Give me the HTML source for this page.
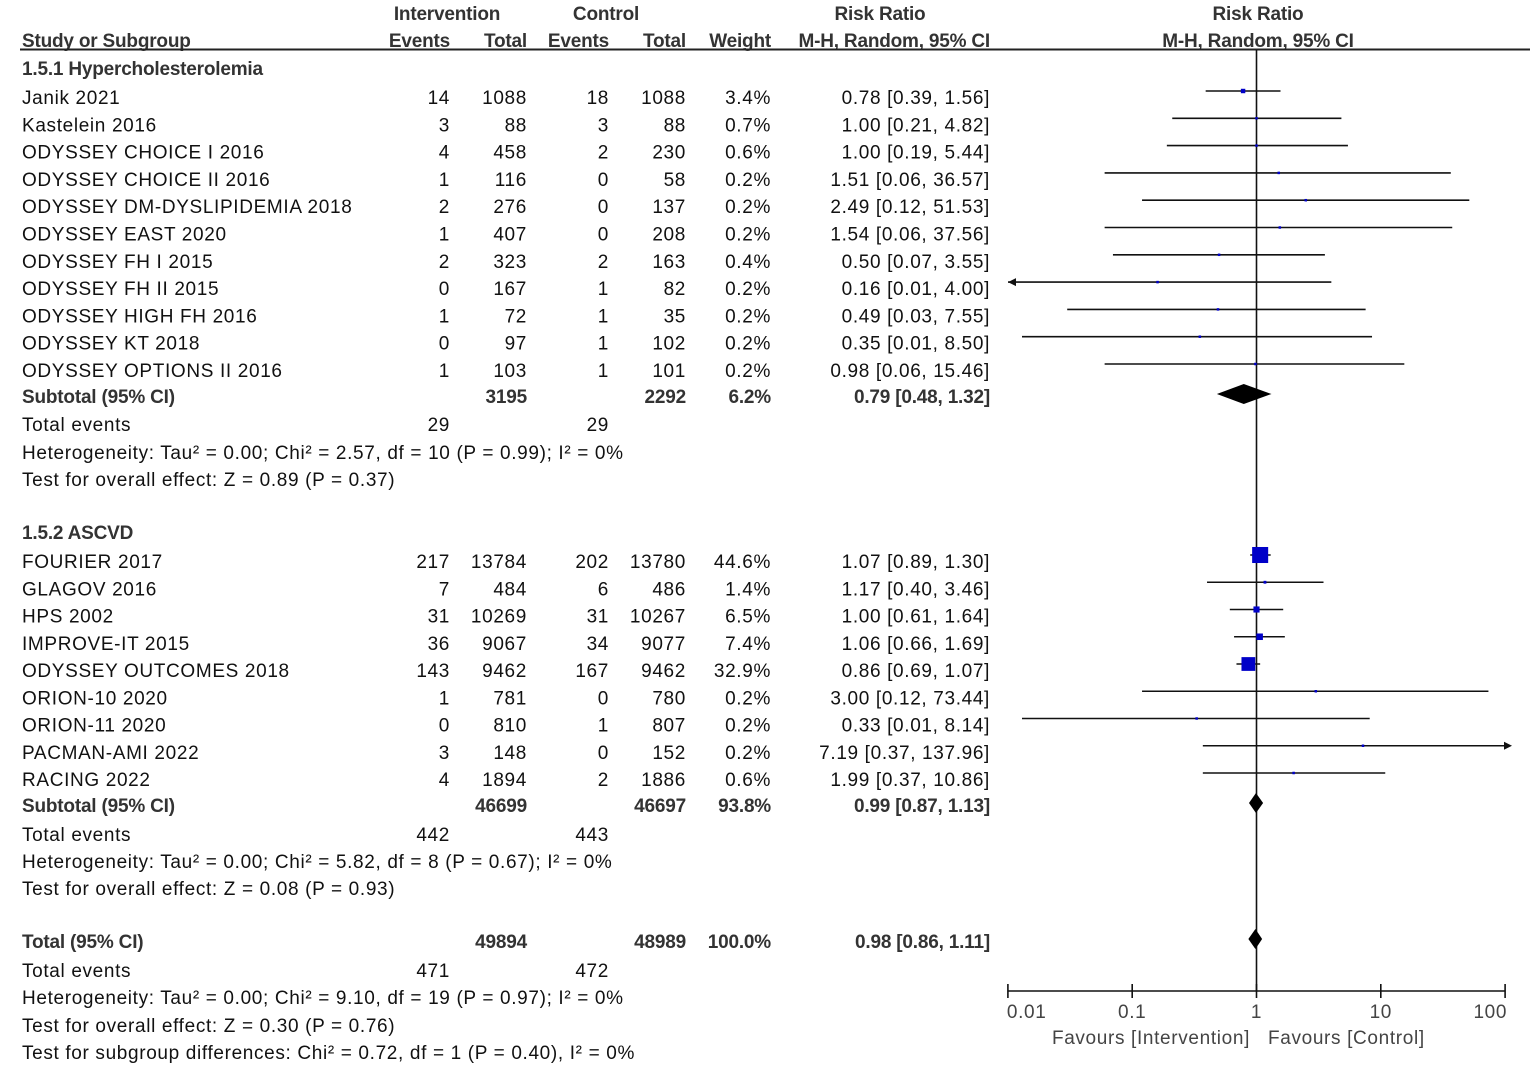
<!DOCTYPE html>
<html><head><meta charset="utf-8"><style>
html,body{margin:0;padding:0;background:#fff;}
svg{display:block;font-family:"Liberation Sans",Arial,sans-serif;font-size:19px;fill:#111;letter-spacing:0.65px;}
.b{font-weight:bold;font-size:19px;fill:#333;letter-spacing:-0.2px;}
.g{fill:#444;}
</style></head><body>
<svg id="plot" width="1535" height="1065" viewBox="0 0 1535 1065"></svg>
<script>
const studies1 = ["Janik 2021","Kastelein 2016","ODYSSEY CHOICE I 2016","ODYSSEY CHOICE II 2016","ODYSSEY DM-DYSLIPIDEMIA 2018","ODYSSEY EAST 2020","ODYSSEY FH I 2015","ODYSSEY FH II 2015","ODYSSEY HIGH FH 2016","ODYSSEY KT 2018","ODYSSEY OPTIONS II 2016"];
const ie1 = [14,3,4,1,2,1,2,0,1,0,1];
const it1 = [1088,88,458,116,276,407,323,167,72,97,103];
const ce1 = [18,3,2,0,0,0,2,1,1,1,1];
const ct1 = [1088,88,230,58,137,208,163,82,35,102,101];
const w1 = [3.4,0.7,0.6,0.2,0.2,0.2,0.4,0.2,0.2,0.2,0.2];
const rr1 = [0.78,1.00,1.00,1.51,2.49,1.54,0.50,0.16,0.49,0.35,0.98];
const lo1 = [0.39,0.21,0.19,0.06,0.12,0.06,0.07,0.01,0.03,0.01,0.06];
const hi1 = [1.56,4.82,5.44,36.57,51.53,37.56,3.55,4.00,7.55,8.50,15.46];
const arrowL1 = [0,0,0,0,0,0,0,1,0,0,0];
const studies2 = ["FOURIER 2017","GLAGOV 2016","HPS 2002","IMPROVE-IT 2015","ODYSSEY OUTCOMES 2018","ORION-10 2020","ORION-11 2020","PACMAN-AMI 2022","RACING 2022"];
const ie2 = [217,7,31,36,143,1,0,3,4];
const it2 = [13784,484,10269,9067,9462,781,810,148,1894];
const ce2 = [202,6,31,34,167,0,1,0,2];
const ct2 = [13780,486,10267,9077,9462,780,807,152,1886];
const w2 = [44.6,1.4,6.5,7.4,32.9,0.2,0.2,0.2,0.6];
const rr2 = [1.07,1.17,1.00,1.06,0.86,3.00,0.33,7.19,1.99];
const lo2 = [0.89,0.40,0.61,0.66,0.69,0.12,0.01,0.37,0.37];
const hi2 = [1.30,3.46,1.64,1.69,1.07,73.44,8.14,137.96,10.86];
const arrowL2 = [0,0,0,0,0,0,0,0,0];
const pooledRR = [0.79,0.99,0.98];
const pooledLo = [0.48,0.87,0.86];
const pooledHi = [1.32,1.13,1.11];
const ticks = [0.01,0.1,1,10,100];
const tickLabels = ["0.01","0.1","1","10","100"];

const svg = document.getElementById('plot');
const NS = 'http://www.w3.org/2000/svg';
function X(v){ return 1256.5 + 124.3*Math.log10(v); }
function mk(tag, attrs, text){
  const e = document.createElementNS(NS, tag);
  for (const k in attrs) e.setAttribute(k, attrs[k]);
  if (text !== undefined) e.textContent = text;
  svg.appendChild(e); return e;
}
function T(x, y, s, anchor, cls, name){
  const e = mk('text', {x:x, y:y, 'text-anchor':anchor||'start', class:cls||''}, s);
  
  
  return e;
}
T(447,20,"Intervention","middle","b","header-intervention");
T(606,20,"Control","middle","b","header-control");
T(880,20,"Risk Ratio","middle","b","header-risk-ratio");
T(1258,20,"Risk Ratio","middle","b","header-risk-ratio-plot");
T(22,47,"Study or Subgroup","start","b","header-study");
T(450,47,"Events","end","b","header-int-events");
T(527,47,"Total","end","b","header-int-total");
T(609,47,"Events","end","b","header-ctrl-events");
T(686,47,"Total","end","b","header-ctrl-total");
T(771,47,"Weight","end","b","header-weight");
T(990,47,"M-H, Random, 95% CI","end","b","header-ci");
T(1258,47,"M-H, Random, 95% CI","middle","b","header-ci-plot");
let hl = mk('line',{x1:20,y1:49.5,x2:1530,y2:49.5,stroke:'#222','stroke-width':2});



function f2(v){ return v.toFixed(2); }
function studyRow(y, name, ie, it, ce, ct, w, rr, lo, hi, arrL){
  T(22,y+7,name,"start","","study-name");
  T(450,y+7,String(ie),"end","","int-events");
  T(527,y+7,String(it),"end","","int-total");
  T(609,y+7,String(ce),"end","","ctrl-events");
  T(686,y+7,String(ct),"end","","ctrl-total");
  T(771,y+7,w.toFixed(1)+"%","end","","weight");
  T(990,y+7,f2(rr)+" ["+f2(lo)+", "+f2(hi)+"]","end","","ci-text");
  const my = y-6;
  const x1 = arrL ? 1008 : Math.max(X(lo),1022), x2 = Math.min(X(hi),1510);
  const l = mk('line',{x1:x1,y1:my,x2:x2,y2:my,stroke:'#111','stroke-width':1.6});
  
  
  if (arrL) {
    const a = mk('polygon',{points:`${1008},${my} ${1016},${my-4} ${1016},${my+4}`,fill:'#111'});
    
    
  }
  if (X(hi) > 1510) {
    const a = mk('polygon',{points:`${1512},${my} ${1504},${my-4} ${1504},${my+4}`,fill:'#111'});
    
    
  }
  const s = Math.max(2.5, 2.4*Math.sqrt(w));
  const r = mk('rect',{x:X(rr)-s/2,y:my-s/2,width:s,height:s,fill:'#0000c8'});
  
  
}
function diamond(y, i, h){
  const my = y-6;
  const d = mk('polygon',{points:`${X(pooledLo[i])},${my} ${X(pooledRR[i])},${my-h/2} ${X(pooledHi[i])},${my} ${X(pooledRR[i])},${my+h/2}`,fill:'#000'});
  
  
}
const vl = mk('line',{x1:X(1),y1:50,x2:X(1),y2:991,stroke:'#111','stroke-width':1.6});



T(22,75,"1.5.1 Hypercholesterolemia","start","b","subgroup-1-title");
for (let i=0;i<studies1.length;i++) studyRow(97+i*27.3, studies1[i], ie1[i], it1[i], ce1[i], ct1[i], w1[i], rr1[i], lo1[i], hi1[i], arrowL1[i]);
function sub(y, i, it, ct, w, h, label){
  T(22,y+7,label,"start","b","subtotal-label");
  T(527,y+7,String(it),"end","b","subtotal-int-total");
  T(686,y+7,String(ct),"end","b","subtotal-ctrl-total");
  T(771,y+7,w,"end","b","subtotal-weight");
  T(990,y+7,f2(pooledRR[i])+" ["+f2(pooledLo[i])+", "+f2(pooledHi[i])+"]","end","b","subtotal-ci");
  diamond(y+4,i,h);
}
sub(396,0,3195,2292,"6.2%",20,"Subtotal (95% CI)");
T(22,431,"Total events","start","","total-events");
T(450,431,"29","end","","total-events-int");
T(609,431,"29","end","","total-events-ctrl");
T(22,459,"Heterogeneity: Tau² = 0.00; Chi² = 2.57, df = 10 (P = 0.99); I² = 0%","start","","heterogeneity-1");
T(22,486,"Test for overall effect: Z = 0.89 (P = 0.37)","start","","overall-effect-1");

T(22,539,"1.5.2 ASCVD","start","b","subgroup-2-title");
for (let i=0;i<studies2.length;i++) studyRow(561+i*27.25, studies2[i], ie2[i], it2[i], ce2[i], ct2[i], w2[i], rr2[i], lo2[i], hi2[i], arrowL2[i]);
sub(805,1,46699,46697,"93.8%",20,"Subtotal (95% CI)");
T(22,841,"Total events","start","","total-events-2");
T(450,841,"442","end","","total-events-int-2");
T(609,841,"443","end","","total-events-ctrl-2");
T(22,868,"Heterogeneity: Tau² = 0.00; Chi² = 5.82, df = 8 (P = 0.67); I² = 0%","start","","heterogeneity-2");
T(22,895,"Test for overall effect: Z = 0.08 (P = 0.93)","start","","overall-effect-2");

sub(941,2,49894,48989,"100.0%",20,"Total (95% CI)");
T(22,977,"Total events","start","","total-events-3");
T(450,977,"471","end","","total-events-int-3");
T(609,977,"472","end","","total-events-ctrl-3");
T(22,1004,"Heterogeneity: Tau² = 0.00; Chi² = 9.10, df = 19 (P = 0.97); I² = 0%","start","","heterogeneity-3");
T(22,1032,"Test for overall effect: Z = 0.30 (P = 0.76)","start","","overall-effect-3");
T(22,1059,"Test for subgroup differences: Chi² = 0.72, df = 1 (P = 0.40), I² = 0%","start","","subgroup-differences");

const ax = mk('line',{x1:X(0.01),y1:991,x2:X(100),y2:991,stroke:'#111','stroke-width':1.6});


for (let i=0;i<ticks.length;i++){
  const t = mk('line',{x1:X(ticks[i]),y1:984,x2:X(ticks[i]),y2:998,stroke:'#111','stroke-width':1.6});
  
  
  const anchor = i===0 ? 'start' : (i===ticks.length-1 ? 'end' : 'middle');
  T(X(ticks[i]) + (i===0?-1:(i===ticks.length-1?2:0)),1018,tickLabels[i],anchor,"g","x-tick-label");
}
T(1250,1044,"Favours [Intervention]","end","g","favours-intervention");
T(1268,1044,"Favours [Control]","start","g","favours-control");
</script>
</body></html>
